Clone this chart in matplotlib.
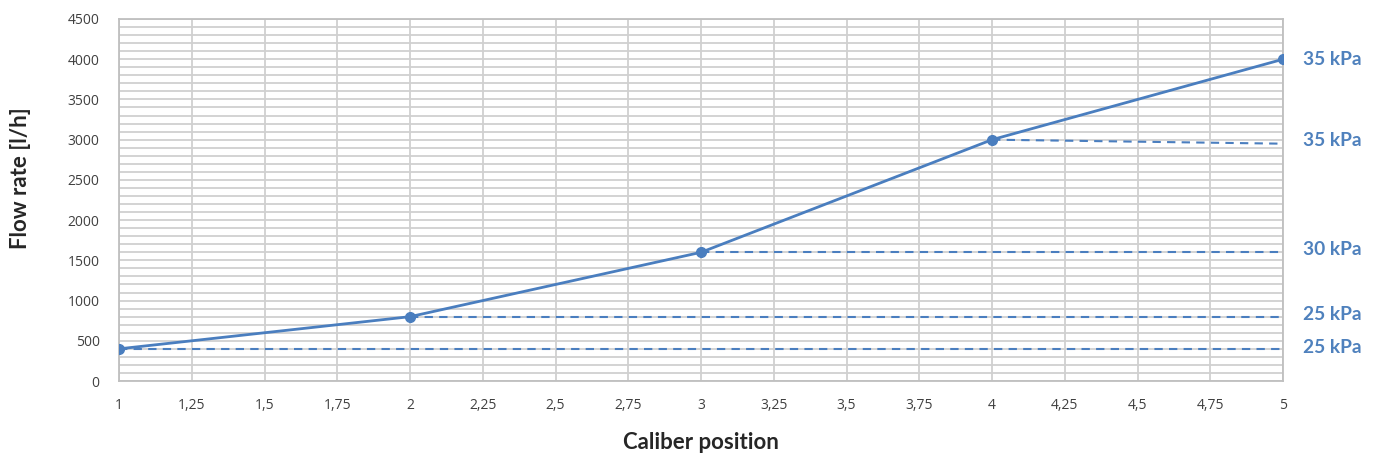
import matplotlib
matplotlib.use("Agg")
import matplotlib.pyplot as plt
from matplotlib.ticker import MultipleLocator, FuncFormatter

# main curve
pos = [1, 2, 3, 4, 5]
flow = [400, 800, 1600, 3000, 4000]

# dashed reference lines: start, end
ref_x0 = [1, 2, 3, 4]
ref_y0 = [400, 800, 1600, 3000]
ref_x1 = [5, 5, 5, 5]
ref_y1 = [400, 800, 1600, 2950]

# pressure labels on the right
lab_text = ["35 kPa", "35 kPa", "30 kPa", "25 kPa", "25 kPa"]
lab_y = [4000, 2990, 1630, 830, 420]

blue = "#4A7EBF"
lab_blue = "#4F81BD"
grid_c = "#D0D0D0"

fig = plt.figure(figsize=(13.81, 4.61), dpi=100)
ax = fig.add_axes([0.0862, 0.1735, 0.8429, 0.7853])

ax.set_xlim(1, 5)
ax.set_ylim(0, 4500)
ax.xaxis.set_major_locator(MultipleLocator(0.25))
ax.yaxis.set_major_locator(MultipleLocator(500))
ax.yaxis.set_minor_locator(MultipleLocator(100))
ax.xaxis.set_major_formatter(FuncFormatter(lambda v, p: ("%g" % v).replace(".", ",")))

ax.grid(True, which="major", color=grid_c, lw=1.3)
ax.grid(True, which="minor", axis="y", color=grid_c, lw=1.3)
ax.set_axisbelow(True)
for s in ax.spines.values():
    s.set_color("#BFBFBF")
    s.set_linewidth(1.3)

ax.tick_params(which="both", length=0)
ax.tick_params(axis="x", pad=12, labelsize=10, labelcolor="#404040")
ax.tick_params(axis="y", pad=14, labelsize=10, labelcolor="#404040")
for t in ax.get_xticklabels() + ax.get_yticklabels():
    t.set_family("Open Sans")

for a, b, c, d in zip(ref_x0, ref_y0, ref_x1, ref_y1):
    ax.plot([a, c], [b, d], color=blue, lw=1.5, ls=(0, (4, 3)))

ax.plot(pos, flow, color=blue, lw=2, marker="o", ms=7, zorder=5)

for txt, yy in zip(lab_text, lab_y):
    ax.annotate(txt, xy=(1, yy), xycoords=("axes fraction", "data"),
                xytext=(14.5, 0), textcoords="offset points", va="center",
                ha="left", color=lab_blue, fontsize=13.8, fontweight="bold",
                family="Lato")

fig.text(0.5077, 0.04, "Caliber position", fontsize=16, fontweight="bold",
         family="Lato", color="#262626", ha="center", va="center")
fig.text(0.0145, 0.614, "Flow rate [l/h]", fontsize=16, fontweight="bold",
         family="Lato", color="#262626", ha="center", va="center",
         rotation=90)

fig.savefig("out.png", dpi=100)
